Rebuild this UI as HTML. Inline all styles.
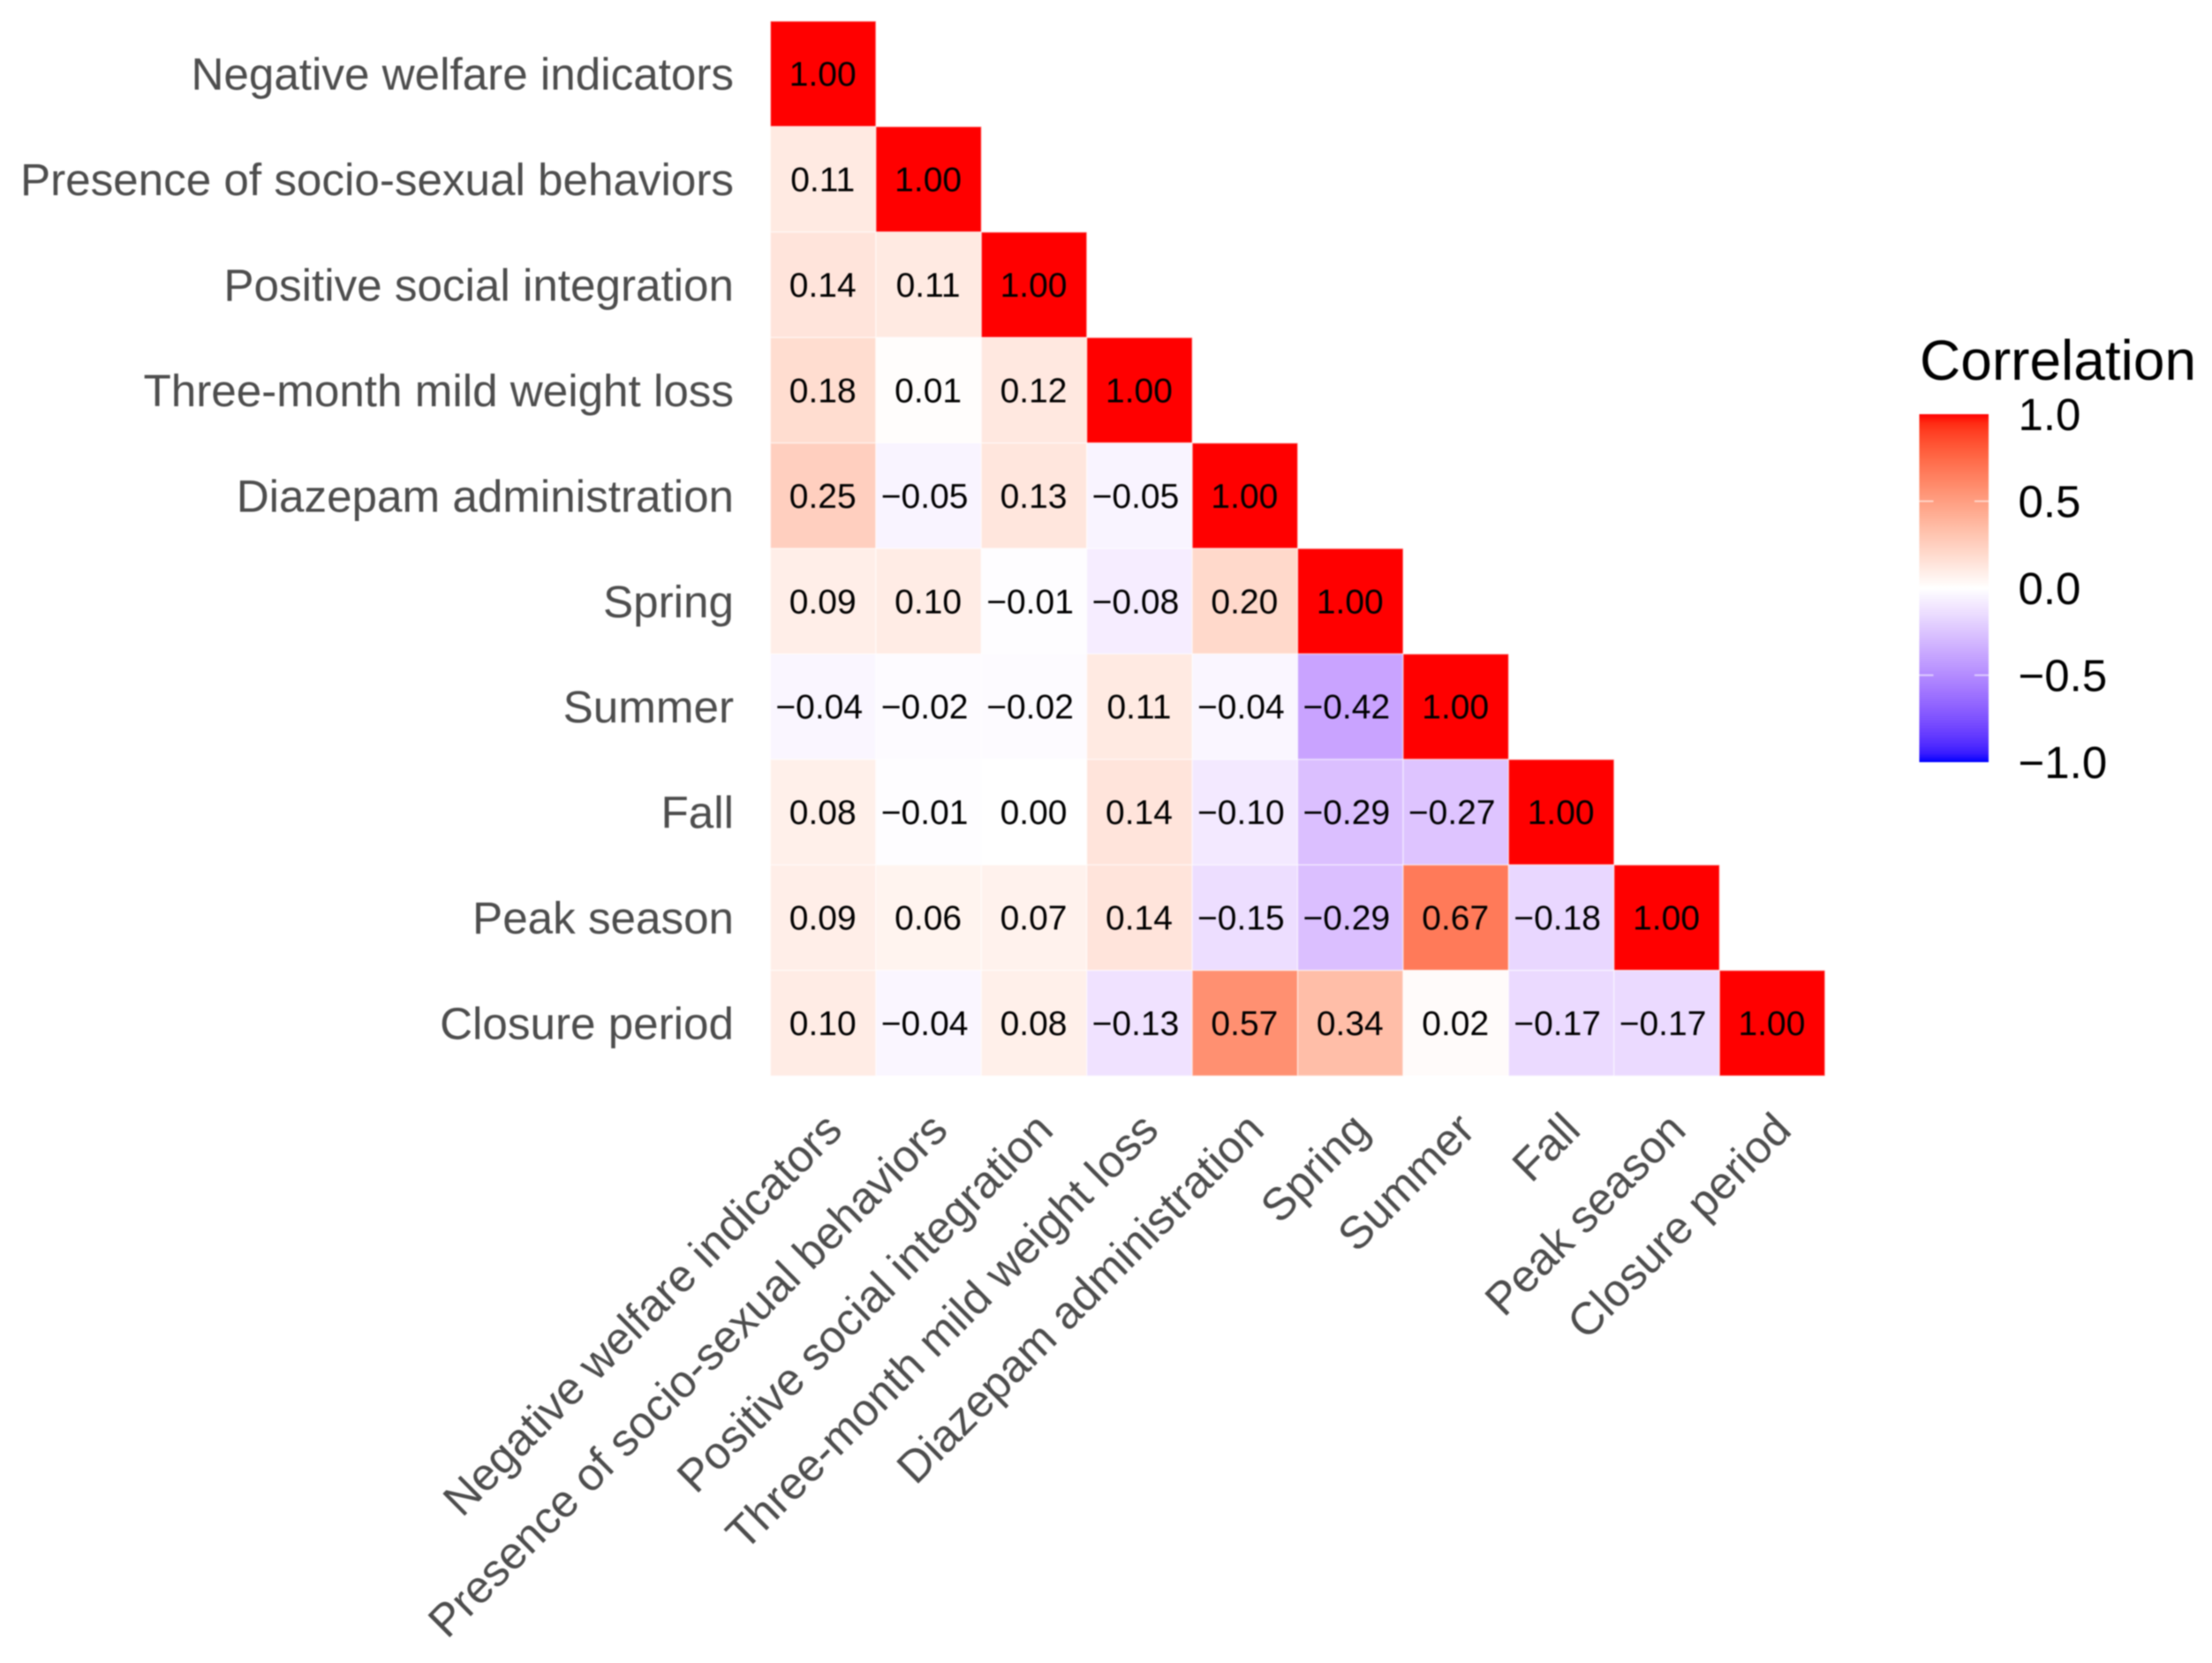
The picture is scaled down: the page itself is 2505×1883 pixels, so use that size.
<!DOCTYPE html>
<html lang="en">
<head>
<meta charset="utf-8">
<title>Correlation heatmap</title>
<style>
  html, body { margin: 0; padding: 0; background: #ffffff; }
  body { width: 2505px; height: 1883px; overflow: hidden; }
  svg { display: block; font-family: "Liberation Sans", Arial, sans-serif; filter: blur(0.8px); }
</style>
</head>
<body>
<svg id="chart" xmlns="http://www.w3.org/2000/svg" width="2505" height="1883" viewBox="0 0 2505 1883">
  <defs>
    <linearGradient id="legend-gradient" x1="0" y1="0" x2="0" y2="1"></linearGradient>
  </defs>
  <rect x="0" y="0" width="2505" height="1883" fill="#ffffff"></rect>
  <g id="cells"></g>
  <g id="y-axis"></g>
  <g id="x-axis"></g>
  <g id="legend">
    <text x="2174" y="430" font-size="64" fill="#000000">Correlation</text>
    <rect x="2173.5" y="469" width="78.5" height="394" fill="url(#legend-gradient)"></rect>
  </g>
</svg>
<script>
const categories = [
  "Negative welfare indicators",
  "Presence of socio-sexual behaviors",
  "Positive social integration",
  "Three-month mild weight loss",
  "Diazepam administration",
  "Spring",
  "Summer",
  "Fall",
  "Peak season",
  "Closure period"
];
const row0 = [1.00];
const row1 = [0.11, 1.00];
const row2 = [0.14, 0.11, 1.00];
const row3 = [0.18, 0.01, 0.12, 1.00];
const row4 = [0.25, -0.05, 0.13, -0.05, 1.00];
const row5 = [0.09, 0.10, -0.01, -0.08, 0.20, 1.00];
const row6 = [-0.04, -0.02, -0.02, 0.11, -0.04, -0.42, 1.00];
const row7 = [0.08, -0.01, 0.00, 0.14, -0.10, -0.29, -0.27, 1.00];
const row8 = [0.09, 0.06, 0.07, 0.14, -0.15, -0.29, 0.67, -0.18, 1.00];
const row9 = [0.10, -0.04, 0.08, -0.13, 0.57, 0.34, 0.02, -0.17, -0.17, 1.00];
const correlationRows = [row0, row1, row2, row3, row4, row5, row6, row7, row8, row9];
const legendTicks = [1.0, 0.5, 0.0, -0.5, -1.0];

const NS = "http://www.w3.org/2000/svg";
const plotLeft = 872.5, plotTop = 24, cellSize = 119.42;
const legendTop = 469, legendBottom = 863, legendLeft = 2173.5, legendRight = 2252;

function xScale(i) { return plotLeft + i * cellSize; }
function yScale(i) { return plotTop + i * cellSize; }
function legendY(v) { return legendTop + (1 - v) / 2 * (legendBottom - legendTop); }

/* Interpolation in CIE Lab between blue, white and red */
const labRed = [53.24, 80.09, 67.20];
const labWhite = [100, 0, 0];
const labBlue = [32.30, 79.19, -107.86];
const labCellBlue = [37, 75, -96];
function labToRgb(L, a, b) {
  const fy = (L + 16) / 116, fx = fy + a / 500, fz = fy - b / 200;
  const inv = function (t) { return t > 6 / 29 ? t * t * t : 3 * (6 / 29) * (6 / 29) * (t - 4 / 29); };
  const X = 0.95047 * inv(fx), Y = inv(fy), Z = 1.08883 * inv(fz);
  const lin = [
    3.2406 * X - 1.5372 * Y - 0.4986 * Z,
    -0.9689 * X + 1.8758 * Y + 0.0415 * Z,
    0.0557 * X - 0.2040 * Y + 1.0570 * Z
  ];
  const out = lin.map(function (c) {
    c = Math.min(1, Math.max(0, c));
    const s = c <= 0.0031308 ? 12.92 * c : 1.055 * Math.pow(c, 1 / 2.4) - 0.055;
    return Math.round(s * 255);
  });
  return "rgb(" + out.join(",") + ")";
}
function mixColor(v, blueEnd) {
  const end = v >= 0 ? labRed : blueEnd;
  const t = Math.abs(v);
  return labToRgb(
    labWhite[0] + (end[0] - labWhite[0]) * t,
    labWhite[1] + (end[1] - labWhite[1]) * t,
    labWhite[2] + (end[2] - labWhite[2]) * t
  );
}
function cellColor(v) { return mixColor(v, labCellBlue); }
function legendColor(v) { return mixColor(v, labBlue); }
function formatValue(v, digits) {
  const s = Math.abs(v).toFixed(digits);
  return v < 0 ? "\u2212" + s : s;
}

const cellsGroup = document.getElementById("cells");
const yGroup = document.getElementById("y-axis");
const xGroup = document.getElementById("x-axis");
const legendGroup = document.getElementById("legend");
const gradient = document.getElementById("legend-gradient");

correlationRows.forEach(function (values, r) {
  values.forEach(function (v, c) {
    const rect = document.createElementNS(NS, "rect");
    
    
    rect.setAttribute("x", xScale(c));
    rect.setAttribute("y", yScale(r));
    rect.setAttribute("width", cellSize);
    rect.setAttribute("height", cellSize);
    rect.setAttribute("fill", cellColor(v));
    rect.setAttribute("stroke", "#ffffff");
    rect.setAttribute("stroke-opacity", "0.45");
    rect.setAttribute("stroke-width", "1.5");
    cellsGroup.appendChild(rect);

    const label = document.createElementNS(NS, "text");
    
    
    label.setAttribute("x", xScale(c) + cellSize / 2 + (v < 0 ? -4.5 : -0.5));
    label.setAttribute("y", yScale(r) + cellSize / 2 + 13.5);
    label.setAttribute("text-anchor", "middle");
    label.setAttribute("font-size", "39");
    label.setAttribute("fill", "#000000");
    label.textContent = formatValue(v, 2);
    cellsGroup.appendChild(label);
  });
});

categories.forEach(function (name, i) {
  const yLabel = document.createElementNS(NS, "text");
  
  
  yLabel.setAttribute("x", 831);
  yLabel.setAttribute("y", yScale(i) + cellSize / 2 + 18);
  yLabel.setAttribute("text-anchor", "end");
  yLabel.setAttribute("font-size", "51.2");
  yLabel.setAttribute("fill", "#4d4d4d");
  yLabel.textContent = name;
  yGroup.appendChild(yLabel);

  const ax = xScale(i) + cellSize / 2 + 24;
  const ay = 1282;
  const xLabel = document.createElementNS(NS, "text");
  
  
  xLabel.setAttribute("text-anchor", "end");
  xLabel.setAttribute("font-size", "51");
  xLabel.setAttribute("fill", "#4d4d4d");
  xLabel.setAttribute("transform", "translate(" + ax + " " + ay + ") scale(1 1.01) rotate(-45)");
  xLabel.textContent = name;
  xGroup.appendChild(xLabel);
});

for (let k = 0; k <= 40; k++) {
  const stopValue = 1 - k / 20;
  const stop = document.createElementNS(NS, "stop");
  stop.setAttribute("offset", (k / 40).toFixed(4));
  stop.setAttribute("stop-color", legendColor(stopValue));
  gradient.appendChild(stop);
}

legendTicks.forEach(function (v) {
  const y = legendY(v);
  if (Math.abs(v) < 1) {
    [[legendLeft, legendLeft + 16], [legendRight - 16, legendRight]].forEach(function (seg) {
      const tick = document.createElementNS(NS, "line");
      
      
      tick.setAttribute("x1", seg[0]);
      tick.setAttribute("x2", seg[1]);
      tick.setAttribute("y1", y);
      tick.setAttribute("y2", y);
      tick.setAttribute("stroke", "#ffffff");
      tick.setAttribute("stroke-opacity", "0.55");
      tick.setAttribute("stroke-width", "2");
      legendGroup.appendChild(tick);
    });
  }
  const label = document.createElementNS(NS, "text");
  
  
  label.setAttribute("x", 2285.5);
  label.setAttribute("y", y + 18);
  label.setAttribute("font-size", "51");
  label.setAttribute("fill", "#000000");
  label.textContent = formatValue(v, 1);
  legendGroup.appendChild(label);
});
</script>
</body>
</html>
